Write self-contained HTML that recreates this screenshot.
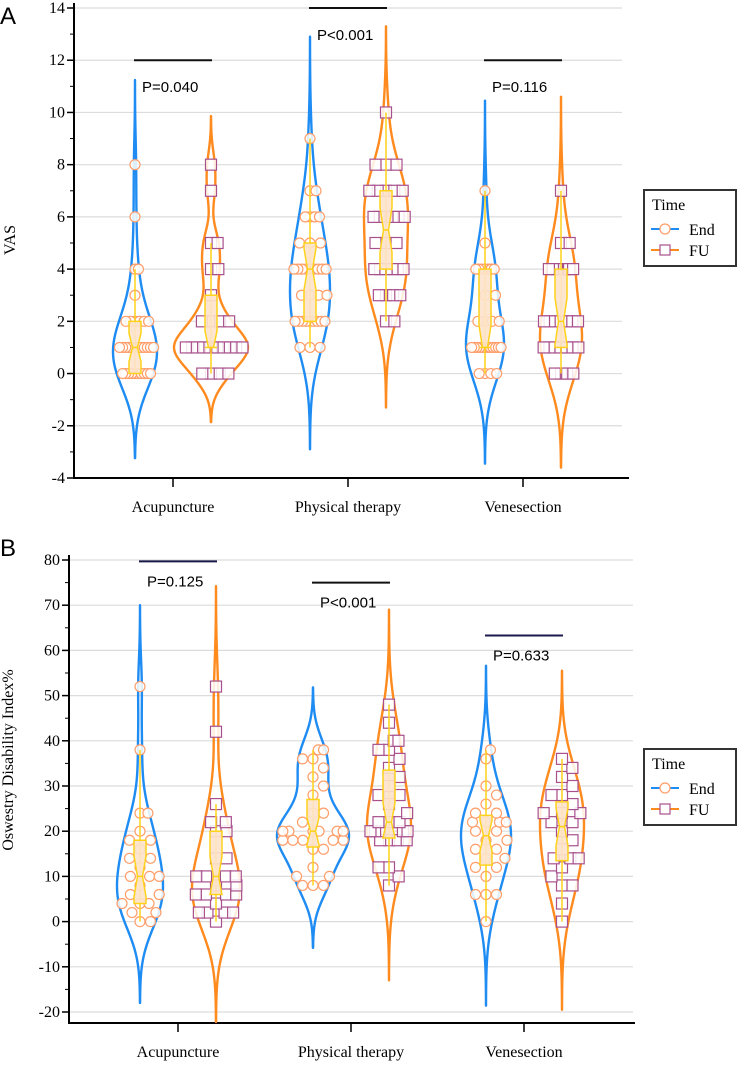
<!DOCTYPE html>
<html><head><meta charset="utf-8"><style>
html,body{margin:0;padding:0;background:#fff}
svg{display:block}
.serif{font-family:"Liberation Serif",serif}
.sans{font-family:"Liberation Sans",sans-serif}
</style></head><body>
<svg id="chart" width="738" height="1073" viewBox="0 0 738 1073" xmlns="http://www.w3.org/2000/svg">
<text x="0" y="24" class="sans" font-size="24">A</text>
<text x="0" y="556" class="sans" font-size="24">B</text>
</svg>
<script>
// ---------- DATA ----------
const categories = ["Acupuncture", "Physical therapy", "Venesection"];
const groups = ["End", "FU"];
const vasTicks = [-4, -2, 0, 2, 4, 6, 8, 10, 12, 14];
const odiTicks = [-20, -10, 0, 10, 20, 30, 40, 50, 60, 70, 80];
const vasPValues = ["P=0.040", "P<0.001", "P=0.116"];
const odiPValues = ["P=0.125", "P<0.001", "P=0.633"];
const vasBarLevel = [12, 14, 12];
const odiBarLevel = [79.7, 75, 63.3];

const vasAcupEnd = [0,0,0,0,0,0,0,0,0,0,1,1,1,1,1,1,1,1,1,1,1,1,2,2,2,2,2,2,3,4,4,6,8];
const vasAcupFU = [0,0,0,0,1,1,1,1,1,1,1,1,1,1,2,2,2,2,3,4,4,5,5,7,8];
const vasPhysEnd = [1,1,1,2,2,2,2,2,2,2,2,2,3,3,3,3,4,4,4,4,4,4,4,4,4,5,5,5,6,6,6,6,7,7,9];
const vasPhysFU = [2,2,3,3,3,3,4,4,4,4,4,4,5,5,5,6,6,6,6,6,6,7,7,7,7,7,8,8,8,10];
const vasVenEnd = [0,0,0,0,1,1,1,1,1,1,1,1,1,1,1,1,2,2,2,2,3,3,4,4,4,4,4,4,4,5,7];
const vasVenFU = [0,0,0,0,1,1,1,1,1,1,1,2,2,2,2,2,2,2,4,4,4,4,4,4,4,5,5,7];

const odiAcupEnd = [0,0,2,2,4,4,4,6,6,8,10,10,10,12,14,14,16,18,18,20,24,24,38,52];
const odiAcupFU = [0,2,2,2,2,4,6,6,6,6,8,8,10,10,10,10,14,14,20,20,22,22,26,42,52];
const odiPhysEnd = [8,8,8,10,10,12,16,16,18,18,18,18,18,20,20,20,20,20,20,22,24,24,28,30,32,34,36,36,38,38];
const odiPhysFU = [8,10,12,12,18,18,18,18,20,20,20,20,20,22,22,22,24,26,28,28,30,32,34,36,38,38,40,40,44,48];
const odiVenEnd = [0,6,6,6,10,12,12,14,14,16,16,18,18,20,20,22,22,22,22,24,24,26,28,30,36,38];
const odiVenFU = [0,4,8,8,10,12,14,14,14,16,18,20,22,22,24,24,24,26,28,28,30,32,34,36];

const vasBandwidth = [1.08, 0.62, 1.3, 1.1, 1.15, 1.2];
const odiBandwidth = [6, 7.4, 4.6, 7, 6.2, 6.5];

// ---------- STYLE / LAYOUT ----------
const vasHalfWidth = [22, 37, 20, 22, 19, 21];
const odiHalfWidth = [23, 24, 36, 22, 25, 22];
const NS = "http://www.w3.org/2000/svg";
const svg = document.getElementById("chart");
const BLUE = "#1E8CF2", ORANGE = "#FF8A1E", BOXY = "#FFD21A", BOXF = "#FDE3CC";

function mk(tag, attrs, parent) {
  const e = document.createElementNS(NS, tag);
  for (const k in attrs) e.setAttribute(k, attrs[k]);
  (parent || svg).appendChild(e);
  return e;
}
function quant(s, p) {
  const i = (s.length - 1) * p, lo = Math.floor(i), hi = Math.ceil(i);
  return s[lo] + (s[hi] - s[lo]) * (i - lo);
}

function drawPanel(cfg) {
  const g = mk("g", {});
  
  
  const yMin = cfg.ticks[0], yMax = cfg.ticks[cfg.ticks.length - 1];
  const ys = v => cfg.yBot + (v - yMin) / (yMax - yMin) * (cfg.yTop - cfg.yBot);
  const xCat = i => cfg.catX0 + i * cfg.catStep;
  const step = cfg.ticks[1] - cfg.ticks[0];
  cfg.ticks.forEach((t, i) => {
    const y = ys(t);
    const gl = mk("line", {x1: cfg.axisX, x2: cfg.gridRight, y1: y, y2: y, stroke: "#dcdcdc", "stroke-width": 1.2}, g);
    
    
    const tk = mk("line", {x1: cfg.axisX - 7, x2: cfg.axisX, y1: y, y2: y, stroke: "#000", "stroke-width": 1.5}, g);
    
    
    if (i < cfg.ticks.length - 1) {
      const ym = ys(t + step / 2);
      const mt = mk("line", {x1: cfg.axisX - 4, x2: cfg.axisX, y1: ym, y2: ym, stroke: "#000", "stroke-width": 1}, g);
      
      
    }
    const lb = mk("text", {x: cfg.axisX - 9, y: y + 5, "text-anchor": "end", "font-size": 16, class: "serif"}, g);
    lb.textContent = t;
    
    
  });
  const ax = mk("line", {x1: cfg.axisX, x2: cfg.axisX, y1: cfg.yTop - 5, y2: cfg.axisBottom, stroke: "#000", "stroke-width": 2}, g);
  
  
  const bx = mk("line", {x1: cfg.axisX - 1, x2: cfg.axisRight, y1: cfg.axisBottom, y2: cfg.axisBottom, stroke: "#000", "stroke-width": 2}, g);
  
  
  categories.forEach((c, i) => {
    const x = xCat(i);
    const t = mk("line", {x1: x, x2: x, y1: cfg.axisBottom, y2: cfg.axisBottom + 9, stroke: "#000", "stroke-width": 1.5}, g);
    
    
    const l = mk("text", {x: x, y: cfg.axisBottom + 34, "text-anchor": "middle", "font-size": 16, class: "serif"}, g);
    l.textContent = c;
    
    
  });
  const yl = mk("text", {x: 0, y: 0, "text-anchor": "middle", "font-size": 16, class: "serif", transform: `translate(${cfg.yLabelX},${cfg.yLabelY}) rotate(-90)`}, g);
  yl.textContent = cfg.yTitle;
  
  

  cfg.series.forEach((data, k) => {
    const ci = Math.floor(k / 2), gi = k % 2;
    const cx = xCat(ci) + (gi === 0 ? -cfg.off : cfg.off);
    const bw = cfg.bw[k], HW = cfg.hw[k];
    const s = data.slice().sort((a, b) => a - b);
    const lo = s[0] - 3 * bw, hi = s[s.length - 1] + 3 * bw;
    const dens = v => s.reduce((a, d) => a + Math.exp(-0.5 * ((v - d) / bw) ** 2), 0);
    const N = 160; let pts = [], mx = 0;
    for (let i = 0; i <= N; i++) { const v = lo + (hi - lo) * i / N; const d = dens(v); pts.push([v, d]); if (d > mx) mx = d; }
    const hwAt = v => dens(v) / mx * HW;
    let right = pts.map(p => `${(cx + p[1] / mx * HW).toFixed(2)},${ys(p[0]).toFixed(2)}`);
    let left = pts.slice().reverse().map(p => `${(cx - p[1] / mx * HW).toFixed(2)},${ys(p[0]).toFixed(2)}`);
    const vg = mk("g", {}, g);
    
    
    const vp = mk("path", {d: "M" + right.join("L") + "L" + left.join("L") + "Z", fill: "none", stroke: gi === 0 ? BLUE : ORANGE, "stroke-width": 2.4, "stroke-linejoin": "round"}, vg);
    
    
    // beeswarm placement
    const D = 10.5;
    const placed = [];
    s.forEach(v => {
      const py = ys(v);
      let off = 0;
      for (let j = 0; j < 200; j++) {
        const cand = j === 0 ? 0 : (j % 2 ? 1 : -1) * Math.ceil(j / 2) * D;
        const ok = placed.every(p => Math.hypot(p.dx - cand, p.py - py) >= D - 0.01);
        if (ok) { off = cand; break; }
      }
      placed.push({v: v, py: py, dx: off});
    });
    const groupsV = {};
    placed.forEach(p => { (groupsV[p.v] = groupsV[p.v] || []).push(p); });
    Object.keys(groupsV).forEach(key => {
      const arr = groupsV[key];
      const m = Math.max(...arr.map(p => Math.abs(p.dx)));
      const lim = Math.max(0, hwAt(+key) * 0.85);
      const f = m > lim && m > 0 ? lim / m : 1;
      arr.forEach(p => p.dx *= f);
    });
    placed.forEach(p => {
      const px = cx + p.dx, py = p.py;
      let m;
      if (gi === 0) m = mk("circle", {cx: px, cy: py, r: 5, fill: "#fff", "fill-opacity": 0.85, stroke: "#FF9E6A", "stroke-width": 1.2}, vg);
      else m = mk("rect", {x: px - 5.5, y: py - 5.5, width: 11, height: 11, fill: "#fff", "fill-opacity": 0.85, stroke: "#A8508C", "stroke-width": 1.2}, vg);
      
      
    });
    const q1 = quant(s, .25), q3 = quant(s, .75), med = quant(s, .5), iqr = q3 - q1;
    const wLo = s.find(v => v >= q1 - 1.5 * iqr), wHi = s.slice().reverse().find(v => v <= q3 + 1.5 * iqr);
    const nh = 1.57 * iqr / Math.sqrt(s.length);
    const wk = mk("line", {x1: cx, x2: cx, y1: ys(wLo), y2: ys(wHi), stroke: BOXY, "stroke-width": 1.5}, vg);
    
    
    const bwid = 6, nw = 2.5;
    const n1 = Math.max(q1, med - nh), n2 = Math.min(q3, med + nh);
    const bd = `M${cx - bwid},${ys(q1)}L${cx + bwid},${ys(q1)}L${cx + bwid},${ys(n1)}L${cx + nw},${ys(med)}L${cx + bwid},${ys(n2)}L${cx + bwid},${ys(q3)}L${cx - bwid},${ys(q3)}L${cx - bwid},${ys(n2)}L${cx - nw},${ys(med)}L${cx - bwid},${ys(n1)}Z`;
    const bp = mk("path", {d: bd, fill: BOXF, stroke: BOXY, "stroke-width": 1.5, "fill-opacity": 0.9}, vg);
    
    
    const ml = mk("line", {x1: cx - nw, x2: cx + nw, y1: ys(med), y2: ys(med), stroke: BOXY, "stroke-width": 1.5}, vg);
    
    
  });

  cfg.pvals.forEach((p, i) => {
    const y = ys(cfg.pLevel[i]);
    const x0 = xCat(i) - cfg.off - 1, x1 = xCat(i) + cfg.off + 1;
    const l = mk("line", {x1: x0, x2: x1, y1: y, y2: y, stroke: cfg.barColor[i], "stroke-width": 2}, g);
    
    
    const t = mk("text", {x: x0 + 8, y: y + cfg.pDy, "font-size": 15, class: "sans"}, g);
    t.textContent = p;
    
    
  });

  const lg = mk("g", {}, g);
  
  
  const L = cfg.legY;
  const lr = mk("rect", {x: 644, y: L, width: 92, height: 76, fill: "#fff", stroke: "#333", "stroke-width": 2}, lg);
  
  
  const lt = mk("text", {x: 652, y: L + 20, "font-size": 16, class: "serif"}, lg);
  lt.textContent = "Time";
  
  
  const e1 = mk("g", {}, lg);
  
  
  mk("line", {x1: 651, x2: 679, y1: L + 39, y2: L + 39, stroke: BLUE, "stroke-width": 2}, e1);
  mk("circle", {cx: 665, cy: L + 39, r: 5, fill: "#fff", stroke: "#FF9E6A", "stroke-width": 1.2}, e1);
  const t1 = mk("text", {x: 689, y: L + 45, "font-size": 16, class: "serif"}, e1);
  t1.textContent = "End";
  const e2 = mk("g", {}, lg);
  
  
  mk("line", {x1: 651, x2: 679, y1: L + 60, y2: L + 60, stroke: ORANGE, "stroke-width": 2}, e2);
  mk("rect", {x: 660, y: L + 55, width: 10, height: 10, fill: "#fff", stroke: "#A8508C", "stroke-width": 1.2}, e2);
  const t2 = mk("text", {x: 689, y: L + 66, "font-size": 16, class: "serif"}, e2);
  t2.textContent = "FU";
}

drawPanel({
  name: "panel-a-vas", ticks: vasTicks, yTop: 8, yBot: 478, axisX: 74, axisBottom: 478, axisRight: 629, gridRight: 622,
  catX0: 173, catStep: 175, off: 38, yTitle: "VAS", yLabelX: 15, yLabelY: 240,
  series: [vasAcupEnd, vasAcupFU, vasPhysEnd, vasPhysFU, vasVenEnd, vasVenFU],
  bw: vasBandwidth, hw: vasHalfWidth, pvals: vasPValues, pLevel: vasBarLevel, pDy: 32,
  barColor: ["#111", "#111", "#111"], legY: 190
});
drawPanel({
  name: "panel-b-odi", ticks: odiTicks, yTop: 560, yBot: 1012, axisX: 69, axisBottom: 1023, axisRight: 635, gridRight: 633,
  catX0: 178, catStep: 173, off: 38, yTitle: "Oswestry Disability Index%", yLabelX: 13, yLabelY: 760,
  series: [odiAcupEnd, odiAcupFU, odiPhysEnd, odiPhysFU, odiVenEnd, odiVenFU],
  bw: odiBandwidth, hw: odiHalfWidth, pvals: odiPValues, pLevel: odiBarLevel, pDy: 25,
  barColor: ["#1a1a4a", "#111", "#1a1a4a"], legY: 749
});
</script>
</body></html>
